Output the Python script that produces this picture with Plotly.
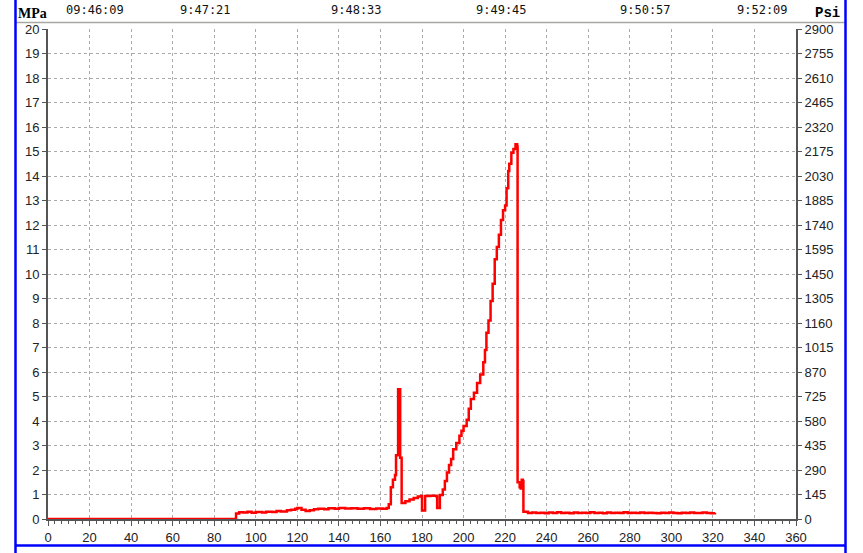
import plotly.graph_objects as go

# ---- data ----
x_vals = [0, 90, 90.5, 92, 94, 96, 98, 100, 103, 105, 108, 110, 112, 115, 117, 119, 120, 122, 124,
          126, 128, 130, 133, 135, 138, 140, 143, 146, 149, 152, 155, 158, 161, 163, 164, 165, 166,
          167, 167.5, 168.3, 168.5, 169.3, 169.5, 170, 170.2, 172, 174, 176, 178, 179.5, 180, 181,
          181.5, 184, 187, 187.3, 188.3, 188.6, 190, 191, 192, 193, 194, 195, 196.5, 198, 199, 200,
          201.5, 202.5, 203.5, 205, 206.5, 208, 209.5, 210.3, 211, 212, 213, 214, 215, 216, 217,
          218, 219, 220, 220.7, 221.5, 222, 223, 224, 225, 225.8, 226, 227, 227.5, 228, 228.5, 228.8,
          231, 233, 235, 237, 239, 241, 243, 245, 247, 249, 251, 253, 255, 257, 259, 261, 263, 265,
          267, 269, 271, 273, 275, 277, 279, 281, 283, 285, 287, 289, 291, 293, 295, 297, 299, 301,
          303, 305, 307, 309, 311, 313, 315, 317, 319, 321]
mpa_vals = [0, 0, 0.22, 0.28, 0.27, 0.30, 0.26, 0.29, 0.27, 0.30, 0.29, 0.33, 0.31, 0.36, 0.38, 0.42,
            0.45, 0.38, 0.33, 0.36, 0.40, 0.42, 0.40, 0.44, 0.42, 0.45, 0.43, 0.44, 0.42, 0.44, 0.41,
            0.43, 0.42, 0.45, 0.60, 1.30, 1.60, 1.80, 2.60, 2.60, 5.30, 5.30, 2.50, 2.50, 0.65, 0.72,
            0.80, 0.86, 0.92, 0.94, 0.35, 0.35, 0.94, 0.95, 0.92, 0.45, 0.45, 0.98, 1.20, 1.55, 1.90,
            2.20, 2.45, 2.85, 3.10, 3.40, 3.60, 3.80, 4.05, 4.50, 4.90, 5.15, 5.55, 5.90, 6.40, 6.90,
            7.60, 8.10, 8.90, 9.60, 10.60, 11.10, 11.60, 12.20, 12.60, 12.80, 13.50, 14.20, 14.50,
            14.95, 15.10, 15.30, 15.20, 1.50, 1.30, 1.25, 1.60, 1.55, 0.30, 0.25, 0.27, 0.24, 0.26,
            0.23, 0.27, 0.25, 0.28, 0.24, 0.26, 0.23, 0.27, 0.24, 0.26, 0.25, 0.28, 0.24, 0.26, 0.23,
            0.27, 0.24, 0.26, 0.25, 0.28, 0.24, 0.26, 0.25, 0.27, 0.24, 0.26, 0.25, 0.23, 0.26, 0.24,
            0.27, 0.25, 0.23, 0.26, 0.24, 0.27, 0.25, 0.24, 0.27, 0.25, 0.23, 0.26]

x_ticks = list(range(0, 361, 20))
mpa_ticks = list(range(0, 21))
psi_ticks = [0, 145, 290, 435, 580, 725, 870, 1015, 1160, 1305, 1450, 1595, 1740, 1885,
             2030, 2175, 2320, 2465, 2610, 2755, 2900]
time_labels = ["09:46:09", "9:47:21", "9:48:33", "9:49:45", "9:50:57", "9:52:09"]
time_label_x = [22.6, 75.6, 148.7, 218.5, 287.8, 344.1]

# ---- figure ----
W, H = 863, 553
L, R, T, B = 48, 67, 29, 34
pw, ph = W - L - R, H - T - B


def px_x(px):
    return (px - L) / pw


def px_y(py):
    return (H - B - py) / ph


fig = go.Figure()
fig.add_trace(go.Scatter(x=x_vals, y=mpa_vals, mode="lines",
                         line=dict(color="#ff0000", width=2.5, shape="hv"),
                         showlegend=False, hoverinfo="skip"))
fig.add_trace(go.Scatter(x=[0], y=[0], yaxis="y2", mode="lines", opacity=0,
                         showlegend=False, hoverinfo="skip"))

axis_col = "#555555"
grid = dict(showgrid=True, gridcolor="#ababab", gridwidth=1, griddash="3px,3px")
tickfont = dict(family="Liberation Sans", size=13, color="#222222")

fig.update_layout(
    width=W, height=H,
    margin=dict(l=L, r=R, t=T, b=B, autoexpand=False),
    paper_bgcolor="white", plot_bgcolor="white",
    xaxis=dict(range=[0, 360], tickvals=x_ticks, ticks="outside", ticklen=5,
               tickcolor=axis_col, showline=True, linecolor=axis_col, linewidth=2,
               zeroline=False, tickfont=tickfont, mirror=False, automargin=False,
               minor=dict(dtick=20 / 6, ticks="outside", ticklen=3, tickcolor=axis_col,
                          showgrid=False),
               **grid),
    yaxis=dict(range=[0, 20], tickvals=mpa_ticks, ticks="outside", ticklen=4,
               tickcolor=axis_col, showline=True, linecolor=axis_col, linewidth=2,
               zeroline=False, tickfont=tickfont, automargin=False, **grid),
    yaxis2=dict(range=[0, 2900], tickvals=psi_ticks, overlaying="y", side="right",
                ticks="outside", ticklen=4, tickcolor=axis_col, showline=True,
                linecolor=axis_col, linewidth=2, showgrid=False, zeroline=False,
                tickfont=tickfont, automargin=False),
)

# time labels along the top
for t, xv in zip(time_labels, time_label_x):
    fig.add_annotation(x=xv, xref="x", y=px_y(10), yref="paper", text=t, showarrow=False,
                       font=dict(family="DejaVu Sans Mono", size=12, color="#111111"),
                       xanchor="center", yanchor="middle")

fig.add_annotation(x=px_x(16), xref="paper", y=px_y(13), yref="paper", text="<b>MPa</b>",
                   showarrow=False, xanchor="left", yanchor="middle",
                   font=dict(family="Liberation Serif", size=14, color="#000000"))
fig.add_annotation(x=px_x(842), xref="paper", y=px_y(13), yref="paper", text="<b>Psi</b>",
                   showarrow=False, xanchor="right", yanchor="middle",
                   font=dict(family="Liberation Mono", size=14, color="#000000"))

# frame lines
fig.add_shape(type="line", xref="paper", yref="paper", x0=px_x(16), x1=px_x(845),
              y0=px_y(22.5), y1=px_y(22.5), line=dict(color="#a8a8a0", width=1.5))
fig.add_shape(type="line", xref="paper", yref="paper", x0=px_x(15.5), x1=px_x(15.5),
              y0=px_y(0), y1=px_y(553), line=dict(color="#0000ff", width=2.5))
fig.add_shape(type="line", xref="paper", yref="paper", x0=px_x(845.5), x1=px_x(845.5),
              y0=px_y(0), y1=px_y(553), line=dict(color="#0000ff", width=2.5))
fig.add_shape(type="line", xref="paper", yref="paper", x0=px_x(15), x1=px_x(846),
              y0=px_y(545.5), y1=px_y(545.5), line=dict(color="#0000ff", width=2.5))

fig.write_html("out.html",
               config={"displayModeBar": False, "staticPlot": True},
               post_script="document.body.style.margin='0';document.body.style.overflow='hidden';")
